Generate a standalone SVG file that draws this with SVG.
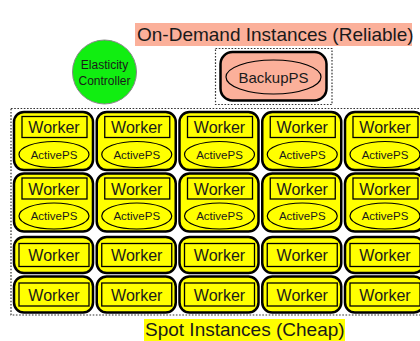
<svg xmlns="http://www.w3.org/2000/svg" width="420" height="341" viewBox="0 0 420 341">
  <style>
    text { font-family: "Liberation Sans", Arial, sans-serif; fill: #1a1a1a; text-anchor: middle; }
    .title { font-size: 19px; text-anchor: start; }
    .group { fill: none; stroke: #333; stroke-width: 1.2; stroke-dasharray: 1.6 1.6; }
    .host { fill: #ffff00; stroke: #000; stroke-width: 2.5; }
    .worker { fill: #ffff00; stroke: #000; stroke-width: 1.3; }
    .ps { fill: #ffff00; stroke: #000; stroke-width: 1.2; }
    .wlabel { font-size: 16px; }
    .pslabel { font-size: 11.5px; }
  </style>
  <defs>
    <!-- spot host running a worker plus an active parameter server -->
    <g id="wps">
      <rect class="host" x="0" y="0" width="79" height="58" rx="10"/>
      <rect class="worker" x="8" y="4.5" width="65" height="21"/>
      <text class="wlabel" x="40" y="21">Worker</text>
      <ellipse class="ps" cx="40" cy="42.5" rx="35" ry="13"/>
      <text class="pslabel" x="40" y="46.5">ActivePS</text>
    </g>
    <!-- spot host running a worker only -->
    <g id="w">
      <rect class="host" x="0" y="0" width="79" height="36" rx="10"/>
      <rect class="worker" x="5" y="6.5" width="70" height="23"/>
      <text class="wlabel" x="40" y="24">Worker</text>
    </g>
  </defs>

  <!-- on-demand label -->
  <rect x="135" y="23" width="277" height="23" fill="#fbb09a"/>
  <text class="title" x="137" y="41">On-Demand Instances (Reliable)</text>

  <!-- elasticity controller -->
  <g id="controller">
    <circle cx="104.5" cy="72" r="32" fill="#11ee11" stroke="#888" stroke-width="1"/>
    <text x="104.5" y="69" font-size="12">Elasticity</text>
    <text x="104.5" y="85" font-size="12">Controller</text>
  </g>

  <!-- on-demand backup parameter server -->
  <g id="backup">
    <rect class="group" x="215.5" y="48.5" width="116.5" height="56"/>
    <rect x="220.5" y="52" width="106" height="48.5" rx="12" fill="#fbb09a" stroke="#000" stroke-width="2.5"/>
    <ellipse cx="273.5" cy="77" rx="47.5" ry="17" fill="#fbb09a" stroke="#000" stroke-width="1.2"/>
    <text x="273.5" y="82.5" font-size="15">BackupPS</text>
  </g>

  <!-- spot instance pool -->
  <rect class="group" x="11" y="108.5" width="420" height="206.5"/>

  <g id="row1">
    <use href="#wps" x="14" y="112"/>
    <use href="#wps" x="96.75" y="112"/>
    <use href="#wps" x="179.5" y="112"/>
    <use href="#wps" x="262.25" y="112"/>
    <use href="#wps" x="345" y="112"/>
  </g>
  <g id="row2">
    <use href="#wps" x="14" y="173.5"/>
    <use href="#wps" x="96.75" y="173.5"/>
    <use href="#wps" x="179.5" y="173.5"/>
    <use href="#wps" x="262.25" y="173.5"/>
    <use href="#wps" x="345" y="173.5"/>
  </g>
  <g id="row3">
    <use href="#w" x="14" y="237"/>
    <use href="#w" x="96.75" y="237"/>
    <use href="#w" x="179.5" y="237"/>
    <use href="#w" x="262.25" y="237"/>
    <use href="#w" x="345" y="237"/>
  </g>
  <g id="row4">
    <use href="#w" x="14" y="276.5"/>
    <use href="#w" x="96.75" y="276.5"/>
    <use href="#w" x="179.5" y="276.5"/>
    <use href="#w" x="262.25" y="276.5"/>
    <use href="#w" x="345" y="276.5"/>
  </g>

  <!-- spot label -->
  <rect x="144" y="319" width="201" height="22" fill="#ffff00"/>
  <text class="title" x="145" y="336">Spot Instances (Cheap)</text>

  <g id="connectors"/>
</svg>
